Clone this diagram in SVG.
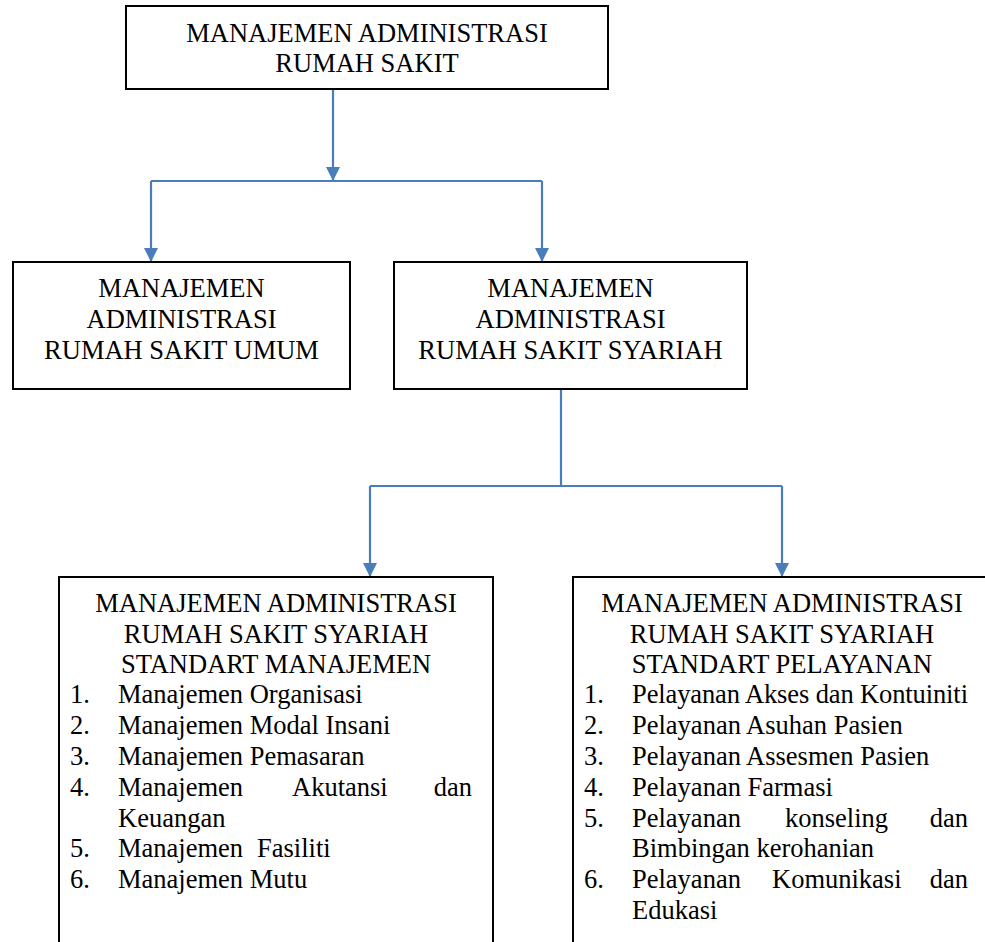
<svg xmlns="http://www.w3.org/2000/svg" width="985" height="942" viewBox="0 0 985 942">
<style>
.box{fill:#fff;stroke:#000;stroke-width:2}
.t{font-family:"Liberation Serif","Times New Roman",serif;font-size:26.5px;fill:#000}
.c{text-anchor:middle}
.e{text-anchor:end}
.con{fill:none;stroke:#4A7EBB;stroke-width:2.2}
</style>
<defs>
<marker id="ah" viewBox="0 0 14 14" refX="14" refY="7" markerWidth="14" markerHeight="14" markerUnits="userSpaceOnUse" orient="auto">
<path d="M0,0 L14,7 L0,14 Z" fill="#4A7EBB"/>
</marker>
</defs>
<rect width="985" height="942" fill="#fff"/>
<g id="connectors">
<line class="con" x1="333" y1="89" x2="333" y2="181" marker-end="url(#ah)"/>
<polyline class="con" points="151,181 542,181"/>
<line class="con" x1="151" y1="181" x2="151" y2="262" marker-end="url(#ah)"/>
<line class="con" x1="542" y1="181" x2="542" y2="262" marker-end="url(#ah)"/>
<line class="con" x1="561" y1="390" x2="561" y2="486"/>
<polyline class="con" points="370,486 782,486"/>
<line class="con" x1="370" y1="486" x2="370" y2="577" marker-end="url(#ah)"/>
<line class="con" x1="782" y1="486" x2="782" y2="577" marker-end="url(#ah)"/>
</g>
<g id="root">
<rect class="box" x="126" y="6" width="482" height="83"/>
<text class="t c" x="367" y="42">MANAJEMEN ADMINISTRASI</text>
<text class="t c" x="367" y="72">RUMAH SAKIT</text>
</g>
<g id="umum">
<rect class="box" x="13" y="262" width="337" height="127"/>
<text class="t c" x="181.5" y="297">MANAJEMEN</text>
<text class="t c" x="181.5" y="328">ADMINISTRASI</text>
<text class="t c" x="181.5" y="359">RUMAH SAKIT UMUM</text>
</g>
<g id="syariah">
<rect class="box" x="394" y="262" width="353" height="127"/>
<text class="t c" x="570.5" y="297">MANAJEMEN</text>
<text class="t c" x="570.5" y="328">ADMINISTRASI</text>
<text class="t c" x="570.5" y="359">RUMAH SAKIT SYARIAH</text>
</g>
<g id="standart-manajemen">
<rect class="box" x="59" y="577" width="434" height="380"/>
<text class="t c" x="276" y="612">MANAJEMEN ADMINISTRASI</text>
<text class="t c" x="276" y="643">RUMAH SAKIT SYARIAH</text>
<text class="t c" x="276" y="673">STANDART MANAJEMEN</text>
<text class="t" x="70" y="703">1.</text><text class="t" x="118" y="703">Manajemen Organisasi</text>
<text class="t" x="70" y="734">2.</text><text class="t" x="118" y="734">Manajemen Modal Insani</text>
<text class="t" x="70" y="765">3.</text><text class="t" x="118" y="765">Manajemen Pemasaran</text>
<text class="t" x="70" y="796">4.</text><text class="t" y="796"><tspan x="118">Manajemen</tspan> <tspan x="292">Akutansi</tspan> <tspan x="472" class="e" text-anchor="end">dan</tspan></text>
<text class="t" x="118" y="827">Keuangan</text>
<text class="t" x="70" y="857">5.</text><text class="t" y="857"><tspan x="118">Manajemen</tspan> <tspan x="257">Fasiliti</tspan></text>
<text class="t" x="70" y="888">6.</text><text class="t" x="118" y="888">Manajemen Mutu</text>
</g>
<g id="standart-pelayanan">
<rect class="box" x="573" y="577" width="418" height="380"/>
<text class="t c" x="782" y="612">MANAJEMEN ADMINISTRASI</text>
<text class="t c" x="782" y="643">RUMAH SAKIT SYARIAH</text>
<text class="t c" x="782" y="673">STANDART PELAYANAN</text>
<text class="t" x="584" y="703">1.</text><text class="t" x="632" y="703" textLength="336" lengthAdjust="spacing">Pelayanan Akses dan Kontuiniti</text>
<text class="t" x="584" y="734">2.</text><text class="t" x="632" y="734">Pelayanan Asuhan Pasien</text>
<text class="t" x="584" y="765">3.</text><text class="t" x="632" y="765">Pelayanan Assesmen Pasien</text>
<text class="t" x="584" y="796">4.</text><text class="t" x="632" y="796">Pelayanan Farmasi</text>
<text class="t" x="584" y="827">5.</text><text class="t" y="827"><tspan x="632">Pelayanan</tspan> <tspan x="785">konseling</tspan></text><text class="t e" x="968" y="827">dan</text>
<text class="t" x="632" y="857">Bimbingan kerohanian</text>
<text class="t" x="584" y="888">6.</text><text class="t" y="888"><tspan x="632">Pelayanan</tspan> <tspan x="772">Komunikasi</tspan></text><text class="t e" x="968" y="888">dan</text>
<text class="t" x="632" y="919">Edukasi</text>
</g>
</svg>
